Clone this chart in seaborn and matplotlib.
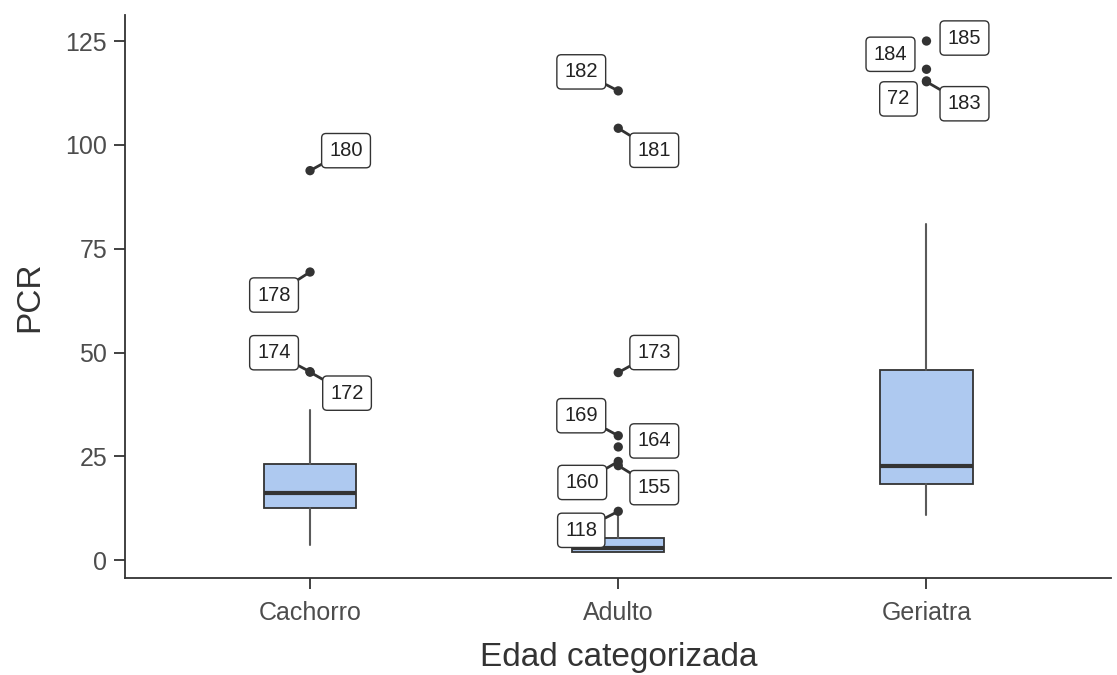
import numpy as np
import matplotlib.pyplot as plt
import seaborn as sns

# categories and box summaries
categories = ['Cachorro', 'Adulto', 'Geriatra']
q1 = [12.5, 1.9, 18.3]
median = [16.3, 2.9, 22.6]
q3 = [23.1, 5.5, 45.9]
whislo = [3.8, 1.9, 11.0]
whishi = [36.3, 10.8, 81.0]

# outliers with their ids
out_group = ['Cachorro', 'Cachorro', 'Cachorro', 'Cachorro',
             'Adulto', 'Adulto', 'Adulto', 'Adulto', 'Adulto', 'Adulto', 'Adulto', 'Adulto',
             'Geriatra', 'Geriatra', 'Geriatra', 'Geriatra']
out_value = [93.8, 69.4, 45.4, 45.3,
             113.0, 104.0, 45.2, 30.0, 27.3, 23.8, 22.8, 11.8,
             125.0, 118.2, 115.4, 115.2]
out_id = ['180', '178', '174', '172',
          '182', '181', '173', '169', '164', '160', '155', '118',
          '185', '184', '72', '183']

# label nudges in pixels (repel result) and whether a segment is drawn
nudge = [(36, 20), (-36, -23), (-36, 19), (37, -21),
         (-37, 19), (36, -22), (36, 20), (-37, 20), (36, 6), (-36, -21), (36, -22), (-37, -19),
         (38, 3), (-36, 15), (-28, -18), (38, -22)]
segment = [True, True, True, True,
           True, True, True, True, False, True, True, True,
           False, False, False, True]

sns.set_theme(style='ticks')
plt.rcParams['font.family'] = ['Liberation Sans', 'DejaVu Sans']

fig, ax = plt.subplots(figsize=(11.17, 6.75), dpi=100)
fig.subplots_adjust(left=0.112, right=0.995, top=0.978, bottom=0.144)

stats = []
for i, c in enumerate(categories):
    stats.append(dict(label=c, q1=q1[i], med=median[i], q3=q3[i],
                      whislo=whislo[i], whishi=whishi[i], fliers=[]))

ax.bxp(stats, positions=range(len(categories)), widths=0.3, patch_artist=True,
       showcaps=False,
       boxprops=dict(facecolor='#aec9f0', edgecolor='#333333', linewidth=1.3),
       medianprops=dict(color='#333333', linewidth=3),
       whiskerprops=dict(color='#5a5a5a', linewidth=1.5))

pos = {c: i for i, c in enumerate(categories)}
xs = [pos[g] for g in out_group]
sns.scatterplot(x=xs, y=out_value, ax=ax, color='#333333', s=45, edgecolor='none', zorder=3)

for x, y, lab, (dx, dy), seg in zip(xs, out_value, out_id, nudge, segment):
    arrow = dict(arrowstyle='-', color='#333333', lw=2, shrinkA=0, shrinkB=0) if seg else None
    ax.annotate(lab, xy=(x, y), xytext=(dx, dy), textcoords='offset pixels',
                ha='center', va='center', fontsize=14.5, color='#222222',
                bbox=dict(boxstyle='round,pad=0.38,rounding_size=0.22', fc='white', ec='#333333', lw=1),
                arrowprops=arrow, zorder=4)

ax.set_xlim(-0.6, 2.6)
ax.set_ylim(-4.2, 131.3)
ax.set_xticks(range(len(categories)))
ax.set_xticklabels(categories)
ax.set_yticks([0, 25, 50, 75, 100, 125])
ax.tick_params(labelsize=18, colors='#333333', labelcolor='#4d4d4d', length=8, width=1.3)
ax.tick_params(axis='x', pad=9)
ax.tick_params(axis='y', pad=5)
for s in ['left', 'bottom']:
    ax.spines[s].set_color('#333333')
    ax.spines[s].set_linewidth(1.3)
sns.despine(ax=ax)
ax.set_xlabel('Edad categorizada', fontsize=24, color='#333333', labelpad=12)
ax.set_ylabel('PCR', fontsize=24, color='#333333', labelpad=14)

plt.savefig('out.png')
